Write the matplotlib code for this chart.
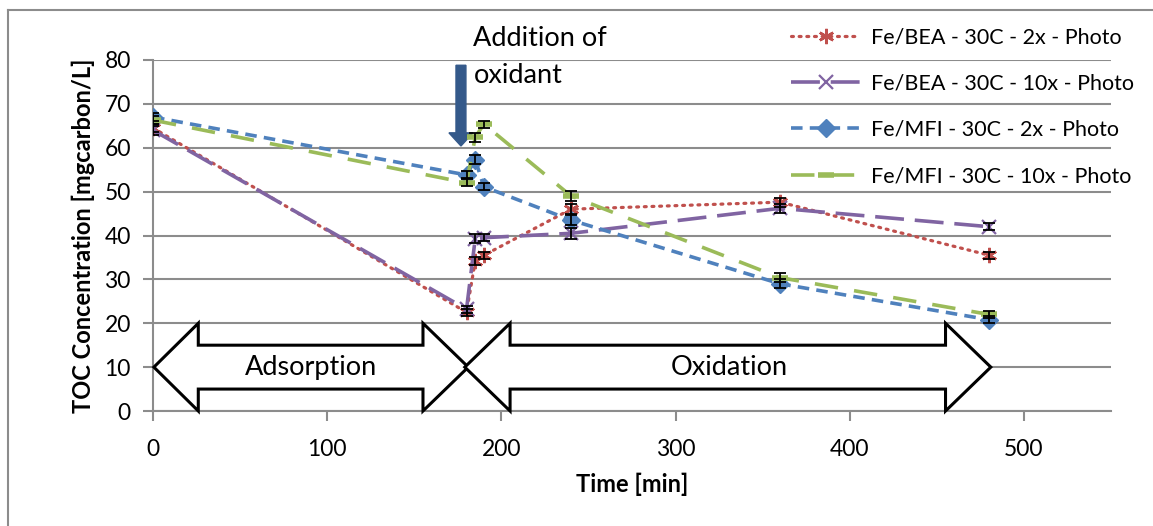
import matplotlib.pyplot as plt
from matplotlib.patches import Polygon, FancyArrow
from matplotlib.lines import Line2D

plt.rcParams['font.family'] = ['Lato', 'DejaVu Sans']

time = [0, 180, 185, 190, 240, 360, 480]
bea_2x = [64.5, 22.5, 34.2, 35.5, 46.0, 47.6, 35.5]
bea_10x = [64.0, 23.2, 39.3, 39.5, 40.5, 46.2, 42.0]
mfi_2x = [67.0, 53.8, 57.3, 51.1, 43.5, 29.0, 20.8]
mfi_10x = [66.3, 52.0, 62.4, 65.4, 49.0, 30.4, 22.0]
err = [1.0, 0.8, 1.0, 0.8, 1.2, 1.0, 0.8]

labels = ['Fe/BEA - 30C - 2x - Photo', 'Fe/BEA - 30C - 10x - Photo',
          'Fe/MFI - 30C - 2x - Photo', 'Fe/MFI - 30C - 10x - Photo']

fig = plt.figure(figsize=(11.53, 5.26), dpi=100)
ax = fig.add_axes([153 / 1153, 1 - 411 / 526, 958 / 1153, 351 / 526])

lw = 2.3
h1, = ax.plot(time, bea_2x, color='#C0504D', lw=lw, ls=(0, (0.6, 1.8)), dash_capstyle='round',
              marker=(6, 2, 0), ms=11, mew=1.8, zorder=5)
h2, = ax.plot(time, bea_10x, color='#8064A2', lw=lw + 0.3, ls=(0, (8, 3)),
              marker='x', ms=10, mew=1.6, zorder=5)
h3, = ax.plot(time, mfi_2x, color='#4F81BD', lw=lw + 0.3, ls=(0, (3.2, 2)),
              marker='D', ms=9, zorder=5)
h4, = ax.plot(time, mfi_10x, color='#9BBB59', lw=lw + 0.3, ls=(0, (6.5, 4.5)),
              marker='_', ms=11, mew=4, zorder=5)

for series in [bea_2x, bea_10x, mfi_2x, mfi_10x]:
    ax.errorbar(time, series, yerr=err, fmt='none', ecolor='black', elinewidth=1.3,
                capsize=4, capthick=1.3, zorder=6)

# block arrows
ads = [(0.5, 10), (26, 20), (26, 15), (155, 15), (155, 20), (181, 10),
       (155, 0), (155, 5), (26, 5), (26, 0)]
oxi = [(179, 10), (205, 20), (205, 15), (455, 15), (455, 20), (481, 10),
       (455, 0), (455, 5), (205, 5), (205, 0)]
for pts in [ads, oxi]:
    ax.add_patch(Polygon(pts, closed=True, facecolor='white', edgecolor='black',
                         lw=2.2, joinstyle='miter', zorder=3, clip_on=False))
ax.text(91, 10, 'Adsorption', ha='center', va='center', fontsize=19.5, zorder=4)
ax.text(331, 10, 'Oxidation', ha='center', va='center', fontsize=19.5, zorder=4)

ax.add_patch(FancyArrow(176.8, 78.8, 0, -18.4, width=5.7, head_width=13.8, head_length=3.0,
                        length_includes_head=True, color='#34598A', zorder=4, clip_on=False))
ax.text(184, 84.8, 'Addition of', ha='left', va='center', fontsize=19.5, clip_on=False)
ax.text(184, 76.5, 'oxidant', ha='left', va='center', fontsize=19.5, clip_on=False)

ax.set_xlim(0, 550)
ax.set_ylim(0, 80)
ax.set_xticks([0, 100, 200, 300, 400, 500])
ax.set_yticks(range(0, 81, 10))
ax.yaxis.grid(True, color='#8C8C8C', lw=1.5)
ax.set_axisbelow(True)
for s in ['top', 'right']:
    ax.spines[s].set_visible(False)
for s in ['left', 'bottom']:
    ax.spines[s].set_color('#8C8C8C')
    ax.spines[s].set_linewidth(1.5)
ax.tick_params(axis='both', colors='#8C8C8C', width=1.5, length=7, labelsize=16.5,
               labelcolor='black')
ax.tick_params(axis='x', pad=13)
ax.tick_params(axis='y', pad=9)
ax.set_xlabel('Time [min]', fontsize=17, fontweight='bold', labelpad=9)
ax.set_ylabel('TOC Concentration [mgcarbon/L]', fontsize=17, fontweight='bold', labelpad=7)

fig.legend([h1, h2, h3, h4], labels, loc='upper left', bbox_to_anchor=(772 / 1153, 1 - 8 / 526),
           frameon=False, fontsize=15.5, handlelength=3.2, handletextpad=0.5, labelspacing=1.22)

# outer chart border
fig.add_artist(Line2D([8 / 1153, 8 / 1153], [0, 1 - 10 / 526], color='#8C8C8C', lw=1.5))
fig.add_artist(Line2D([8 / 1153, 1], [1 - 10 / 526, 1 - 10 / 526], color='#8C8C8C', lw=1.5))

fig.savefig('out.png', dpi=100)
